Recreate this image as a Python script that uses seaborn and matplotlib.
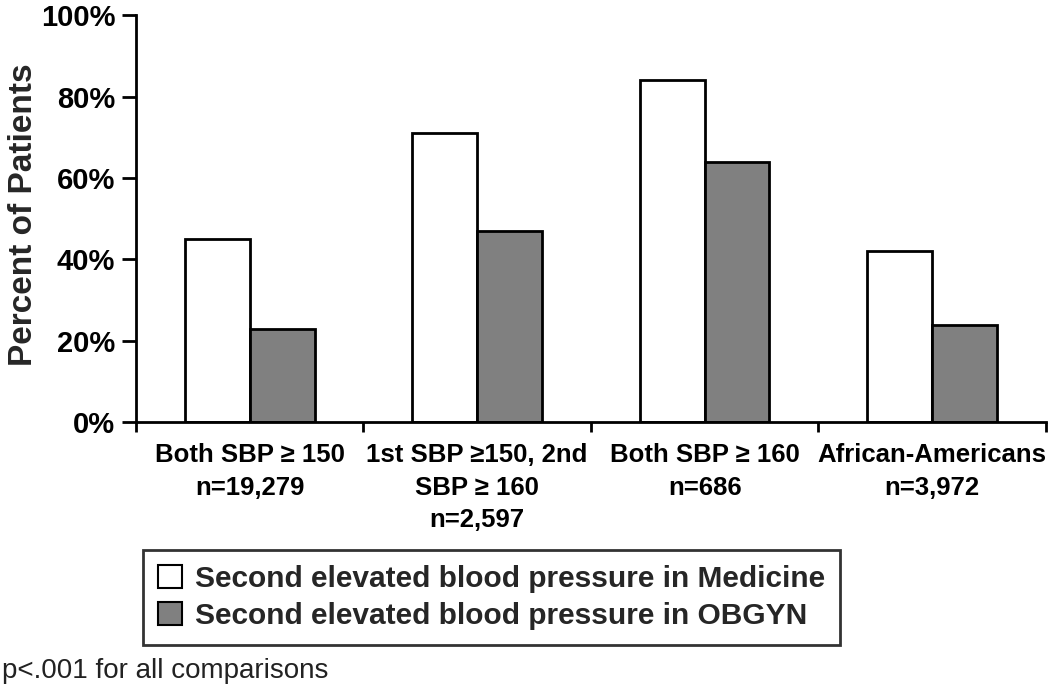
import matplotlib
matplotlib.use("Agg")
import matplotlib.pyplot as plt
import seaborn as sns
import pandas as pd
from matplotlib.ticker import FixedLocator, PercentFormatter

# data
groups = ["Both SBP \u2265 150\nn=19,279",
          "1st SBP \u2265150, 2nd\nSBP \u2265 160\nn=2,597",
          "Both SBP \u2265 160\nn=686",
          "African-Americans\nn=3,972"]
series = ["Second elevated blood pressure in Medicine",
          "Second elevated blood pressure in OBGYN"]
medicine = [45, 71, 84, 42]
obgyn = [23, 47, 64, 24]

df = pd.DataFrame({
    "group": groups * 2,
    "series": [series[0]] * 4 + [series[1]] * 4,
    "pct": medicine + obgyn,
})

sns.set_style("white")
plt.rcParams['font.family'] = ['Liberation Sans', 'DejaVu Sans']

fig = plt.figure(figsize=(10.5, 6.91), dpi=100)
ax = fig.add_axes([0.1295, 0.389, 0.8665, 0.589])

sns.barplot(data=df, x="group", y="pct", hue="series", order=groups,
            hue_order=series, palette=["white", "#808080"], width=0.57,
            edgecolor="black", linewidth=2, ax=ax, legend=True)

ax.set_xlim(-0.5, 3.5)
ax.set_ylim(0, 100)
ax.yaxis.set_major_locator(FixedLocator([0, 20, 40, 60, 80, 100]))
ax.yaxis.set_major_formatter(PercentFormatter(decimals=0))
ax.set_xlabel("")
ax.set_ylabel("Percent of Patients", fontsize=24, fontweight="bold")
ax.yaxis.set_label_coords(-0.107, 0.51)

for s in ["top", "right"]:
    ax.spines[s].set_visible(False)
for s in ["left", "bottom"]:
    ax.spines[s].set_linewidth(2)
    ax.spines[s].set_color("black")

ax.tick_params(axis="y", which="major", direction="out", length=10, width=2,
               left=True, labelsize=21, pad=5, colors="black")
for t in ax.get_yticklabels():
    t.set_fontweight("bold")

ax.set_xticks(range(len(groups)))
ax.set_xticklabels(groups, fontsize=18.5, fontweight="bold", linespacing=1.45)
ax.tick_params(axis="x", which="major", length=0, pad=15, colors="black")
ax.xaxis.set_minor_locator(FixedLocator([-0.5, 0.5, 1.5, 2.5, 3.5]))
ax.tick_params(axis="x", which="minor", direction="out", length=7, width=2,
               bottom=True, colors="black")

handles, labels = ax.get_legend_handles_labels()
ax.get_legend().remove()
leg = fig.legend(handles, labels, loc="upper left",
                 bbox_to_anchor=(143 / 1050, 1 - 550 / 691),
                 prop={"size": 21.5, "weight": "bold"},
                 frameon=True, fancybox=False, edgecolor="black",
                 handlelength=0.8, handleheight=0.8, handletextpad=0.45,
                 labelspacing=0.3, borderpad=0.5, borderaxespad=0)
leg.get_frame().set_linewidth(2)
for h in leg.legend_handles:
    h.set_edgecolor("black")
    h.set_linewidth(1.5)

fig.text(0.002, 1 - 671 / 691, "p<.001 for all comparisons", fontsize=20,
         va="center", ha="left", color="#222222")

fig.savefig("out.png", dpi=100)
